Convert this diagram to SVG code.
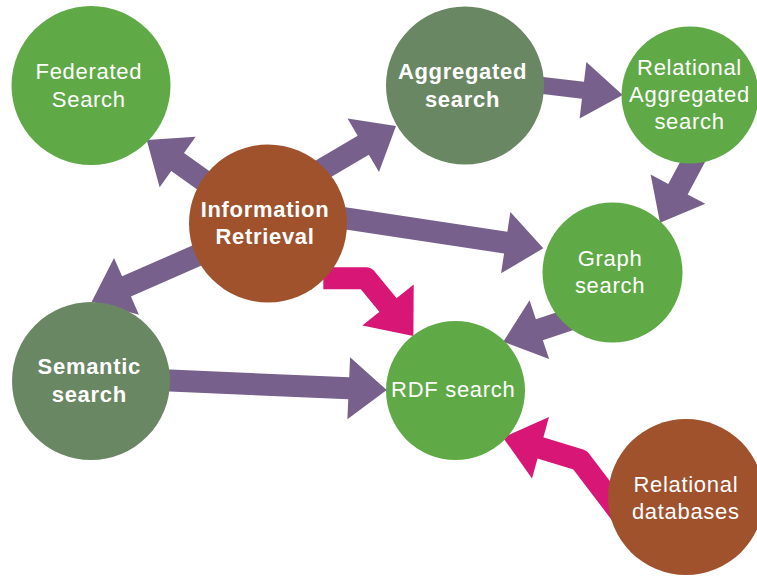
<svg xmlns="http://www.w3.org/2000/svg" width="757" height="577" viewBox="0 0 757 577">
<style>
.arrow{fill:#77608b}
.bend{fill:none;stroke:#d81675;stroke-width:22;stroke-linejoin:round;stroke-linecap:butt}
.bhead{fill:#d81675}
.green{fill:#5faa46}
.olive{fill:#6a8763}
.brown{fill:#a0522d}
text{font-family:"Liberation Sans",Arial,sans-serif;font-size:22px;fill:#ffffff;text-anchor:middle;letter-spacing:0.7px}
.b{font-weight:bold}
</style>
<rect width="757" height="577" fill="#ffffff"/>
<g id="connectors">
  <polygon class="arrow" transform="translate(146.7,140) rotate(-144.5)" points="0,0 -38,-31 -38,-11 -130,-11 -130,11 -38,11 -38,31"/>
  <polygon class="arrow" transform="translate(396,126) rotate(-30.5)" points="0,0 -38,-31 -38,-11 -105,-11 -105,11 -38,11 -38,31"/>
  <polygon class="arrow" transform="translate(543.3,248.3) rotate(8.6)" points="0,0 -38,-31 -38,-11 -240,-11 -240,11 -38,11 -38,31"/>
  <polygon class="arrow" transform="translate(91.7,301.7) rotate(156.3)" points="0,0 -38,-31 -38,-11 -150,-11 -150,11 -38,11 -38,31"/>
  <polygon class="arrow" transform="translate(622.7,95) rotate(6.8)" points="0,0 -40,-28.5 -40,-8.5 -105,-8.5 -105,8.5 -40,8.5 -40,28.5"/>
  <polygon class="arrow" transform="translate(660,222.7) rotate(118.2)" points="0,0 -38,-31 -38,-11 -90,-11 -90,11 -38,11 -38,31"/>
  <polygon class="arrow" transform="translate(503.3,341.7) rotate(161.6)" points="0,0 -38,-31 -38,-11 -90,-11 -90,11 -38,11 -38,31"/>
  <polygon class="arrow" transform="translate(386.7,390) rotate(2.5)" points="0,0 -38,-31 -38,-11 -240,-11 -240,11 -38,11 -38,31"/>
  <path class="bend" d="M323.3,278.3 L366,278.3 L389,306.2"/>
  <polygon class="bhead" points="413.4,335.9 362.3,325.4 413.7,284.6"/>
  <path class="bend" d="M621,514 L580,460 L539,447.4"/>
  <polygon class="bhead" points="502.9,437.4 549,417 532,478.6"/>
</g>
<g id="federated">
  <circle class="green" cx="91" cy="85.5" r="79.5"/>
  <text x="88.8" y="79">Federated</text>
  <text x="88.8" y="106.7">Search</text>
</g>
<g id="aggregated">
  <circle class="olive" cx="465" cy="85.5" r="79"/>
  <text class="b" x="462.5" y="79.3">Aggregated</text>
  <text class="b" x="462.5" y="106.7">search</text>
</g>
<g id="relagg">
  <circle class="green" cx="690" cy="95" r="68.5"/>
  <text x="689.5" y="75">Relational</text>
  <text x="689.5" y="102">Aggregated</text>
  <text x="689.5" y="129">search</text>
</g>
<g id="ir">
  <circle class="brown" cx="268" cy="223.5" r="79"/>
  <text class="b" x="265" y="217.3">Information</text>
  <text class="b" x="265" y="244">Retrieval</text>
</g>
<g id="graph">
  <circle class="green" cx="612.5" cy="272.5" r="70"/>
  <text x="610" y="265.7">Graph</text>
  <text x="610" y="293.3">search</text>
</g>
<g id="semantic">
  <circle class="olive" cx="91" cy="381" r="79"/>
  <text class="b" x="89.3" y="374">Semantic</text>
  <text class="b" x="89.3" y="401.7">search</text>
</g>
<g id="rdf">
  <circle class="green" cx="455.5" cy="390.5" r="69.5"/>
  <text x="453.3" y="397.3">RDF search</text>
</g>
<g id="reldb">
  <circle class="brown" cx="686" cy="497" r="78"/>
  <text x="685.8" y="492">Relational</text>
  <text x="685.8" y="519.3">databases</text>
</g>
</svg>
